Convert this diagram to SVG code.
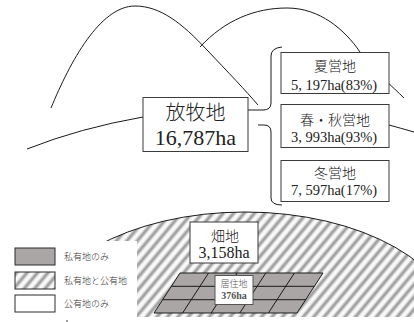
<svg xmlns="http://www.w3.org/2000/svg" width="414" height="322" viewBox="0 0 414 322">
  <defs>
    <linearGradient id="stripe" x1="0" y1="0" x2="1" y2="0">
      <stop offset="0" stop-color="#ffffff"/>
      <stop offset="0.18" stop-color="#f0f0f0"/>
      <stop offset="0.5" stop-color="#8e8e8e"/>
      <stop offset="0.82" stop-color="#f0f0f0"/>
      <stop offset="1" stop-color="#ffffff"/>
    </linearGradient>
    <pattern id="hatch" width="8" height="10" patternUnits="userSpaceOnUse" patternTransform="rotate(40)">
      <rect width="8" height="10" fill="url(#stripe)"/>
    </pattern>
    <clipPath id="fieldClip">
      <rect x="0" y="0" width="414" height="317"/>
    </clipPath>
  </defs>
  <style>
    .line { fill: none; stroke: #1a1a1a; stroke-width: 1; }
    .box { fill: #ffffff; stroke: #3a3a3a; stroke-width: 1; }
    .jp { font-family: "Noto Sans CJK JP", "Noto Sans", sans-serif; font-weight: 300; fill: #222; text-anchor: middle; }
    .num { font-family: "Liberation Serif", "Noto Sans CJK JP", serif; fill: #222; text-anchor: middle; }
    .legend { font-family: "Noto Sans CJK JP", sans-serif; font-weight: 300; font-size: 9px; fill: #333; }
    .grid { fill: #aaa6a6; stroke: #1a1a1a; stroke-width: 1; }
    .small { fill: #555; }
  </style>

  <rect width="414" height="322" fill="#ffffff"/>

  <!-- mountain outlines and ground lines -->
  <g id="connectors">
    <path class="line" d="M51,108 C70,62 100,6 135,6 C160,6 182,23 207,50 C228,72 246,91 258,105"/>
    <path class="line" d="M200,47 C225,20 255,8 287,8 C320,8 345,30 360,52 C375,72 392,86 404,98"/>
    <path class="line" d="M27,149 Q80,128 143,117"/>
    <path class="line" d="M389,125 Q400,128 414,132"/>
    <!-- brace joining the pasture total to its three seasonal parts -->
    <path class="line" d="M248,110 L263,110 Q271,110 271,103 L271,56 Q271,48 282,47"/>
    <path class="line" d="M258,125 L264,125 Q271,125 271,132 L271,198 Q271,205 282,205"/>
  </g>

  <!-- cultivated field area -->
  <g id="field">
    <g clip-path="url(#fieldClip)">
      <ellipse cx="245" cy="332" rx="212" ry="120" fill="url(#hatch)" stroke="#1a1a1a" stroke-width="1"/>
    </g>
  </g>

  <!-- settlement grid -->
  <g id="settlement-grid">
    <path class="grid" d="M180,273 L323,273 L297,313 L154,313 Z"/>
    <path class="line" d="M171.3,286.3 L314.3,286.3 M162.7,299.7 L305.7,299.7"/>
    <path class="line" d="M208.6,273 L182.6,313 M237.2,273 L211.2,313 M265.8,273 L239.8,313 M294.4,273 L268.4,313"/>
  </g>

  <!-- legend panel -->
  <g id="legend">
    <rect x="0" y="241" width="137" height="81" fill="#ffffff"/>
    <rect x="15" y="248" width="40" height="17" fill="#aaa6a6" stroke="#2a2a2a" stroke-width="1"/>
    <rect x="15" y="272" width="40" height="17" fill="url(#hatch)" stroke="#2a2a2a" stroke-width="1"/>
    <rect x="15" y="295" width="40" height="17" fill="#ffffff" stroke="#2a2a2a" stroke-width="1"/>
    <text class="legend" x="64" y="260">私有地のみ</text>
    <text class="legend" x="64" y="284">私有地と公有地</text>
    <text class="legend" x="64" y="307">公有地のみ</text>
    <circle cx="67" cy="321" r="0.8" fill="#222"/>
  </g>

  <g id="pasture">
    <rect class="box" x="143" y="97.5" width="105" height="54"/>
    <text class="jp" x="195.5" y="119.5" font-size="20">放牧地</text>
    <text class="num" x="195.5" y="145" font-size="22">16,787ha</text>
  </g>

  <g id="summer">
    <rect class="box" x="281" y="52.5" width="108" height="41"/>
    <text class="jp" x="335" y="71" font-size="14">夏営地</text>
    <text class="num" x="334" y="89.5" font-size="14.5">5, 197ha(83%)</text>
  </g>

  <g id="spring-autumn">
    <rect class="box" x="281" y="104.5" width="108" height="43"/>
    <text class="jp" x="335" y="124.5" font-size="14">春・秋営地</text>
    <text class="num" x="334" y="141.5" font-size="14.5">3, 993ha(93%)</text>
  </g>

  <g id="winter">
    <rect class="box" x="281" y="160.5" width="108" height="41"/>
    <text class="jp" x="335" y="178" font-size="14">冬営地</text>
    <text class="num" x="334" y="195" font-size="14.5">7, 597ha(17%)</text>
  </g>

  <g id="farmland">
    <rect class="box" x="190" y="222" width="68" height="41"/>
    <text class="jp" x="225" y="241" font-size="14">畑地</text>
    <text class="num" x="224" y="257.5" font-size="16">3,158ha</text>
  </g>

  <g id="residential">
    <rect x="215" y="275.5" width="38" height="29" fill="#ffffff" stroke="#555" stroke-width="1"/>
    <text class="jp small" x="234" y="287" font-size="9">居住地</text>
    <text class="num small" x="234" y="299" font-size="10" font-weight="bold">376ha</text>
  </g>
</svg>
